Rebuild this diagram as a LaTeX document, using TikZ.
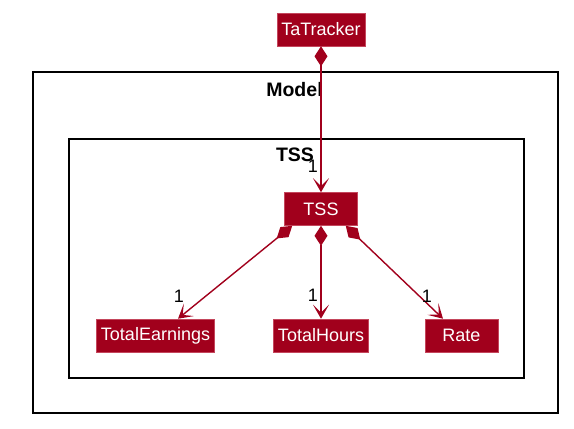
\documentclass[tikz,border=0pt]{standalone}
\usepackage{fontspec}
\setmainfont{Liberation Sans}
\usetikzlibrary{arrows.meta, positioning}
\definecolor{umlred}{RGB}{161,0,28}
\definecolor{umledge}{RGB}{196,70,92}
\tikzstyle{block}=[draw=umledge,fill=umlred,text=white,rectangle,line width=0.6pt,minimum width=73pt,minimum height=33pt,inner xsep=4.5pt,font=\fontsize{18}{21}\selectfont]
\tikzstyle{pkg}=[draw=black,line width=1.5pt]
\tikzstyle{pkglabel}=[font=\fontsize{19.5}{22}\selectfont\bfseries,inner sep=0pt]
\tikzstyle{mult}=[font=\fontsize{18}{21}\selectfont,inner sep=0pt]
\tikzstyle{comp}=[draw=umlred,line width=1.4pt,{Diamond[length=20pt,width=13pt]}-{Stealth[length=14pt,width=16pt,inset=8pt]}]

\begin{document}
\begin{tikzpicture}[x=1pt,y=1pt]
    \useasboundingbox (0,0) rectangle (574,-429);
    % packages
    \draw[pkg] (33,-72) rectangle (558,-413);
    \node[pkglabel] (model) at (294.5,-90) {Model};
    \draw[pkg] (69,-139) rectangle (524,-378);
    \node[pkglabel] (tsspkg) at (295,-155) {TSS};
    % classes
    \node[block] (tss) at (321,-209) {TSS};
    \node[block, above of=tss, node distance=179.5pt] (ta) {TaTracker};
    \node[block, below of=tss, node distance=126.5pt] (th) {TotalHours};
    \node[block, left of=th, node distance=165.5pt] (te) {TotalEarnings};
    \node[block, right of=th, node distance=140.5pt] (rate) {Rate};
    % compositions
    \draw[comp] (ta) -- (tss) node[mult, at end, xshift=-8pt, yshift=26pt] {1};
    \draw[comp] ([xshift=8pt]tss.south west) -- ([xshift=22.5pt]te.north) node[mult, at end, xshift=1pt, yshift=22pt] {1};
    \draw[comp] (tss) -- (th) node[mult, at end, xshift=-8pt, yshift=23pt] {1};
    \draw[comp] ([xshift=-12pt]tss.south east) -- ([xshift=-18.5pt]rate.north) node[mult, at end, xshift=-16pt, yshift=22pt] {1};
\end{tikzpicture}
\end{document}
